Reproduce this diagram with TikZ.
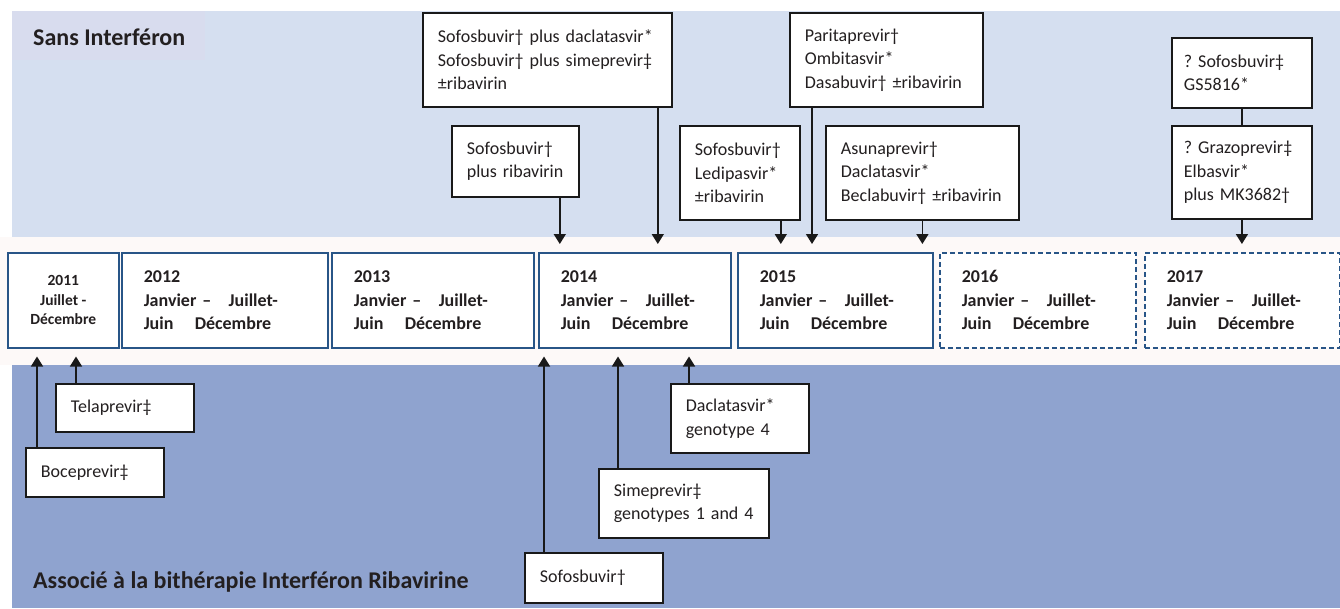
\documentclass[tikz,border=0pt]{standalone}
\usepackage{fontspec}
\setmainfont{Carlito}
\usetikzlibrary{arrows.meta}
\definecolor{bandeHaut}{RGB}{213,223,240}
\definecolor{bandeTitre}{RGB}{216,220,238}
\definecolor{bandeMilieu}{RGB}{253,249,248}
\definecolor{bandeBas}{RGB}{143,163,207}
\definecolor{bordAnnee}{RGB}{40,85,135}
\definecolor{encre}{RGB}{35,31,32}
\frenchspacing
\hyphenpenalty=10000
\def\periode#1{#1\\\makebox[85pt][l]{Janvier –}Juillet-\\\makebox[51pt][l]{Juin}Décembre}

\begin{document}
\begin{tikzpicture}[x=1pt, y=-1pt,
	titre/.style={font=\bfseries\fontsize{24}{28}\selectfont, text=encre, inner sep=0pt, anchor=base west},
	cadre/.style={draw=bordAnnee, line width=1.5pt, fill=white, anchor=north west, inner ysep=0pt, minimum height=95pt, text=encre, font=\bfseries\fontsize{18}{23.5}\selectfont},
	annee/.style={cadre, align=left, inner xsep=22pt, text width=#1},
	prevu/.style={annee=#1, dash pattern=on 5pt off 3pt},
	drogue/.style 2 args={draw=black!90, line width=1.8pt, fill=white, anchor=north west, align=left, inner xsep=15pt, inner ysep=0pt, text width=#1, minimum height=#2, text=encre, font=\fontsize{18}{23.5}\selectfont},
	fleche/.style={-{Triangle[length=10pt,width=12pt]}, line width=1.6pt, draw=black!90, shorten >=8pt}]
	\useasboundingbox (0,0) rectangle (1340,608);
	% fonds
	\fill[bandeHaut] (12,11) rectangle (1340,237);
	\fill[bandeTitre] (12,11) rectangle (205,60);
	\fill[bandeMilieu] (0,237) rectangle (1340,365);
	\fill[bandeBas] (12,365) rectangle (1340,608);
	\node[titre] (sansifn) at (33,45) {Sans Interféron};
	\node[titre] (avecifn) at (33,588) {Associé à la bithérapie Interféron Ribavirine};
	% frise
	\node[cadre, align=center, minimum width=111pt, inner xsep=0pt, font=\bfseries\fontsize{15.5}{19.5}\selectfont] (an11) at (7,252) {2011\\Juillet -\\Décembre};
	\node[annee=162pt] (an12) at (121,252) {\periode{2012}};
	\node[annee=158pt] (an13) at (331,252) {\periode{2013}};
	\node[annee=148pt] (an14) at (538,252) {\periode{2014}};
	\node[annee=151pt] (an15) at (737,252) {\periode{2015}};
	\node[prevu=152pt] (an16) at (939,252) {\periode{2016}};
	\node[prevu=151pt] (an17) at (1144,252) {\periode{2017}};
	% sans interferon
	\node[drogue={219pt}{94pt}] (combi) at (422,12) {Sofosbuvir† plus daclatasvir*\\Sofosbuvir† plus simeprevir‡\\±ribavirin};
	\node[drogue={97pt}{71pt}] (sofriba) at (451,125) {Sofosbuvir†\\plus ribavirin};
	\node[drogue={90pt}{94pt}] (ledi) at (679,125) {Sofosbuvir†\\Ledipasvir*\\±ribavirin};
	\node[drogue={163pt}{94pt}] (pari) at (789,12) {Paritaprevir†\\Ombitasvir*\\Dasabuvir† ±ribavirin};
	\node[drogue={163pt}{94pt}] (asuna) at (825,125) {Asunaprevir†\\Daclatasvir*\\Beclabuvir† ±ribavirin};
	\node[drogue={116pt}{70pt}, inner xsep=12pt] (gs) at (1171,37) {? Sofosbuvir‡\\GS5816*};
	\node[drogue={116pt}{93pt}, inner xsep=12pt] (grazo) at (1171,125) {? Grazoprevir‡\\Elbasvir*\\plus MK3682†};
	% avec interferon
	\node[drogue={108pt}{48pt}] (tela) at (55,383) {Telaprevir‡};
	\node[drogue={108pt}{49pt}] (boce) at (25,447) {Boceprevir‡};
	\node[drogue={108pt}{69pt}] (dacla) at (670,383) {Daclatasvir*\\genotype 4};
	\node[drogue={140pt}{69pt}] (sime) at (598,468) {Simeprevir‡\\genotypes 1 and 4};
	\node[drogue={108pt}{50pt}] (sofo) at (524,552) {Sofosbuvir†};
	% fleches
	\coordinate (pA) at ([xshift=-15pt]combi.south east);
	\coordinate (pB) at ([xshift=-20pt]sofriba.south east);
	\coordinate (pC) at ([xshift=-20pt]ledi.south east);
	\coordinate (pD) at ([xshift=23pt]pari.south west);
	\coordinate (qA) at ([xshift=12pt]boce.north west);
	\coordinate (qB) at ([xshift=21pt]tela.north west);
	\coordinate (qC) at ([xshift=20pt]sofo.north west);
	\coordinate (qD) at ([xshift=20pt]sime.north west);
	\coordinate (qE) at ([xshift=19pt]dacla.north west);
	\draw[fleche] (pA) -- (pA |- an14.north);
	\draw[fleche] (pB) -- (pB |- an14.north);
	\draw[fleche] (pC) -- (pC |- an15.north);
	\draw[fleche] (pD) -- (pD |- an15.north);
	\draw[fleche] (asuna.south) -- (asuna.south |- an15.north);
	\draw[line width=1.6pt, draw=black!90] (gs.south) -- (grazo.north);
	\draw[fleche] (grazo.south) -- (grazo.south |- an17.north);
	\draw[fleche] (qA) -- (qA |- an11.south);
	\draw[fleche] (qB) -- (qB |- an11.south);
	\draw[fleche] (qC) -- (qC |- an14.south);
	\draw[fleche] (qD) -- (qD |- an14.south);
	\draw[fleche] (qE) -- (qE |- an14.south);
\end{tikzpicture}
\end{document}
